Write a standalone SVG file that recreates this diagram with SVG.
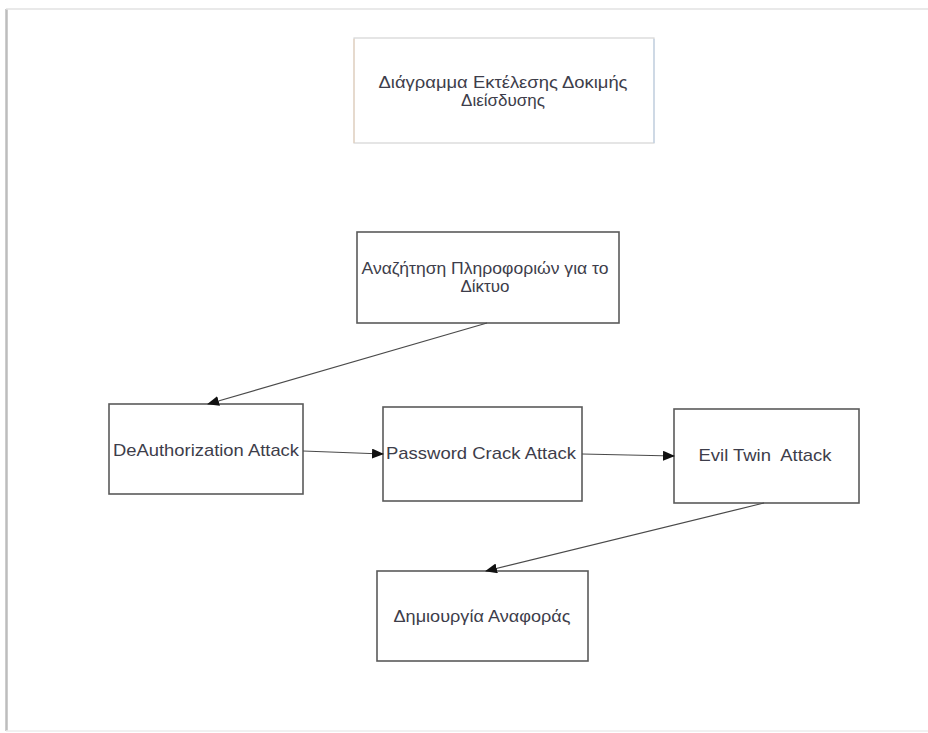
<svg xmlns="http://www.w3.org/2000/svg" width="928" height="733" viewBox="0 0 928 733">
<style>
.box{fill:#ffffff;stroke:#5a5a5a;stroke-width:1.6}
.lbl{font-family:"Liberation Sans",Arial,sans-serif;font-size:17px;fill:#3d3d4a;text-anchor:middle;white-space:pre}
.conn{stroke:#4a4a4a;stroke-width:1.2;fill:none}
</style>
<defs>
<marker id="ah" markerWidth="12" markerHeight="10" refX="11" refY="5" orient="auto" markerUnits="userSpaceOnUse">
<path d="M0,0 L12,5 L0,10 Z" fill="#111"/>
</marker>
</defs>
<rect width="928" height="733" fill="#ffffff"/>
<g id="page">
<line x1="6.5" y1="9" x2="6.5" y2="731" stroke="#bdbdbd" stroke-width="2.5"/>
<line x1="6" y1="9" x2="928" y2="9" stroke="#e2e2e2" stroke-width="1.5"/>
<line x1="6" y1="731" x2="928" y2="731" stroke="#ececec" stroke-width="1.5"/>
</g>
<g id="title">
<rect x="354" y="38" width="300" height="105" fill="#fff" stroke="#d4d4d4" stroke-width="1.2"/>
<line x1="354" y1="39" x2="354" y2="143" stroke="#e6d2be" stroke-width="1.2"/>
<line x1="654" y1="39" x2="654" y2="143" stroke="#bfd0e4" stroke-width="1.2"/>
<text class="lbl" x="503" y="88" textLength="249" lengthAdjust="spacingAndGlyphs">Διάγραμμα Εκτέλεσης Δοκιμής</text>
<text class="lbl" x="503" y="106">Διείσδυσης</text>
</g>
<g id="info">
<rect class="box" x="357" y="232" width="262" height="91"/>
<text class="lbl" x="485" y="274" textLength="247" lengthAdjust="spacingAndGlyphs">Αναζήτηση Πληροφοριών για το</text>
<text class="lbl" x="485" y="292">Δίκτυο</text>
</g>
<g id="deauth">
<rect class="box" x="109" y="404" width="194" height="90"/>
<text class="lbl" x="206" y="456" textLength="186" lengthAdjust="spacingAndGlyphs">DeAuthorization Attack</text>
</g>
<g id="password">
<rect class="box" x="383" y="407" width="199" height="94"/>
<text class="lbl" x="481" y="459" textLength="190" lengthAdjust="spacingAndGlyphs">Password Crack Attack</text>
</g>
<g id="eviltwin">
<rect class="box" x="674" y="409" width="185" height="94"/>
<text class="lbl" x="765" y="461" textLength="133" lengthAdjust="spacingAndGlyphs">Evil Twin  Attack</text>
</g>
<g id="report">
<rect class="box" x="377" y="571" width="211" height="90"/>
<text class="lbl" x="482" y="622" textLength="177" lengthAdjust="spacingAndGlyphs">Δημιουργία Αναφοράς</text>
</g>
<g id="connectors">
<line class="conn" x1="487" y1="323" x2="208" y2="404" marker-end="url(#ah)"/>
<line class="conn" x1="303" y1="451" x2="383" y2="454" marker-end="url(#ah)"/>
<line class="conn" x1="582" y1="454" x2="674" y2="456" marker-end="url(#ah)"/>
<line class="conn" x1="764" y1="503" x2="486" y2="571" marker-end="url(#ah)"/>
</g>
</svg>
